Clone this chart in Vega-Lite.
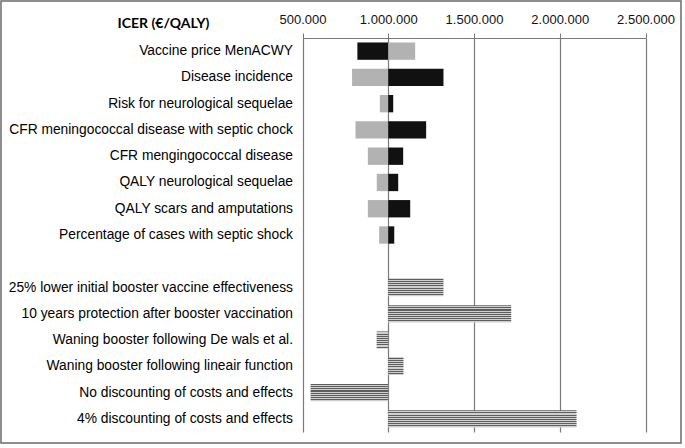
{
  "$schema": "https://vega.github.io/schema/vega-lite/v6.json",
  "width": 680,
  "height": 442,
  "autosize": {"type": "none"},
  "padding": {"left": 1, "top": 1, "right": 4, "bottom": 5},
  "background": "white",
  "config": {
    "view": {"stroke": "#6a6a6a", "strokeWidth": 1.5},
    "font": "Liberation Sans"
  },
  "datasets": {
    "tornado": [
      {"param": "Vaccine price MenACWY", "value": 820000, "kind": "high"},
      {"param": "Vaccine price MenACWY", "value": 1157000, "kind": "low"},
      {"param": "Disease incidence", "value": 789000, "kind": "low"},
      {"param": "Disease incidence", "value": 1322000, "kind": "high"},
      {"param": "Risk for neurological sequelae ", "value": 951000, "kind": "low"},
      {"param": "Risk for neurological sequelae ", "value": 1029000, "kind": "high"},
      {"param": "CFR meningococcal disease with septic chock", "value": 809000, "kind": "low"},
      {"param": "CFR meningococcal disease with septic chock", "value": 1221000, "kind": "high"},
      {"param": "CFR mengingococcal disease", "value": 881000, "kind": "low"},
      {"param": "CFR mengingococcal disease", "value": 1087000, "kind": "high"},
      {"param": "QALY neurological sequelae", "value": 933000, "kind": "low"},
      {"param": "QALY neurological sequelae", "value": 1058000, "kind": "high"},
      {"param": "QALY scars and amputations", "value": 881000, "kind": "low"},
      {"param": "QALY scars and amputations", "value": 1128000, "kind": "high"},
      {"param": "Percentage of cases with septic shock", "value": 947000, "kind": "low"},
      {"param": "Percentage of cases with septic shock", "value": 1035000, "kind": "high"}
    ],
    "scenarios": [
      {"param": "25% lower initial booster vaccine effectiveness", "value": 1322000},
      {"param": "10 years protection after booster vaccination", "value": 1717000},
      {"param": "Waning booster following De wals et al. ", "value": 932000},
      {"param": "Waning booster following lineair function ", "value": 1089000},
      {"param": "No discounting of costs and effects", "value": 547000},
      {"param": "4% discounting of costs and effects", "value": 2098000}
    ]
  },
  "encoding": {
    "y": {
      "field": "param",
      "type": "nominal",
      "sort": null,
      "scale": {
        "domain": [
          "Vaccine price MenACWY",
          "Disease incidence",
          "Risk for neurological sequelae ",
          "CFR meningococcal disease with septic chock",
          "CFR mengingococcal disease",
          "QALY neurological sequelae",
          "QALY scars and amputations",
          "Percentage of cases with septic shock",
          " ",
          "25% lower initial booster vaccine effectiveness",
          "10 years protection after booster vaccination",
          "Waning booster following De wals et al. ",
          "Waning booster following lineair function ",
          "No discounting of costs and effects",
          "4% discounting of costs and effects"
        ],
        "range": [37, 431],
        "paddingInner": 0.34,
        "paddingOuter": 0.17
      },
      "axis": {
        "title": null,
        "orient": "left",
        "offset": -301.5,
        "domain": false,
        "ticks": false,
        "labelPadding": 10,
        "labelFontSize": 13.8,
        "labelColor": "#000000",
        "labelLimit": 400
      }
    },
    "x": {
      "field": "value",
      "type": "quantitative",
      "scale": {"domain": [500000, 2500000], "range": [301.5, 644.5], "clamp": false, "zero": false, "nice": false},
      "axis": {
        "orient": "top",
        "offset": -37,
        "values": [500000, 1000000, 1500000, 2000000, 2500000],
        "labelExpr": "replace(format(datum.value, ','), /,/g, '.')",
        "labelOverlap": false,
        "labelBound": false,
        "labelFlush": false,
        "labelFontSize": 13,
        "labelColor": "#111111",
        "labelPadding": 7,
        "tickSize": 5,
        "tickColor": "#7a7a7a",
        "domainColor": "#7a7a7a",
        "domainWidth": 1.2,
        "grid": true,
        "gridColor": "#7a7a7a",
        "gridWidth": 1.2,
        "gridOpacity": 1,
        "title": "ICER (€/QALY)",
        "titleFont": "Lato",
        "titleFontWeight": "bold",
        "titleFontSize": 14,
        "titleColor": "#000000",
        "titleAlign": "center",
        "titleBaseline": "alphabetic",
        "titleX": 162,
        "titleY": -11
      }
    },
    "x2": {"datum": 1000000}
  },
  "layer": [
    {
      "data": {"name": "tornado"},
      "mark": {"type": "bar"},
      "encoding": {
        "color": {
          "field": "kind",
          "type": "nominal",
          "scale": {"domain": ["high", "low"], "range": ["#111111", "#b2b2b2"]},
          "legend": null
        }
      }
    },
    {
      "data": {"name": "scenarios"},
      "mark": {
        "type": "bar",
        "fill": {
          "gradient": "linear",
          "x1": 0, "y1": 0, "x2": 0, "y2": 1,
          "stops": [
            {"offset": 0, "color": "#5e5e5e"},
            {"offset": 0.0625, "color": "#5e5e5e"},
            {"offset": 0.0626, "color": "#cfcfcf"},
            {"offset": 0.125, "color": "#cfcfcf"},
            {"offset": 0.1251, "color": "#5e5e5e"},
            {"offset": 0.1875, "color": "#5e5e5e"},
            {"offset": 0.1876, "color": "#cfcfcf"},
            {"offset": 0.25, "color": "#cfcfcf"},
            {"offset": 0.2501, "color": "#5e5e5e"},
            {"offset": 0.3125, "color": "#5e5e5e"},
            {"offset": 0.3126, "color": "#cfcfcf"},
            {"offset": 0.375, "color": "#cfcfcf"},
            {"offset": 0.3751, "color": "#5e5e5e"},
            {"offset": 0.4375, "color": "#5e5e5e"},
            {"offset": 0.4376, "color": "#cfcfcf"},
            {"offset": 0.5, "color": "#cfcfcf"},
            {"offset": 0.5001, "color": "#5e5e5e"},
            {"offset": 0.5625, "color": "#5e5e5e"},
            {"offset": 0.5626, "color": "#cfcfcf"},
            {"offset": 0.625, "color": "#cfcfcf"},
            {"offset": 0.6251, "color": "#5e5e5e"},
            {"offset": 0.6875, "color": "#5e5e5e"},
            {"offset": 0.6876, "color": "#cfcfcf"},
            {"offset": 0.75, "color": "#cfcfcf"},
            {"offset": 0.7501, "color": "#5e5e5e"},
            {"offset": 0.8125, "color": "#5e5e5e"},
            {"offset": 0.8126, "color": "#cfcfcf"},
            {"offset": 0.875, "color": "#cfcfcf"},
            {"offset": 0.8751, "color": "#5e5e5e"},
            {"offset": 0.9375, "color": "#5e5e5e"},
            {"offset": 0.9376, "color": "#cfcfcf"},
            {"offset": 1, "color": "#cfcfcf"}
          ]
        }
      }
    }
  ]
}
